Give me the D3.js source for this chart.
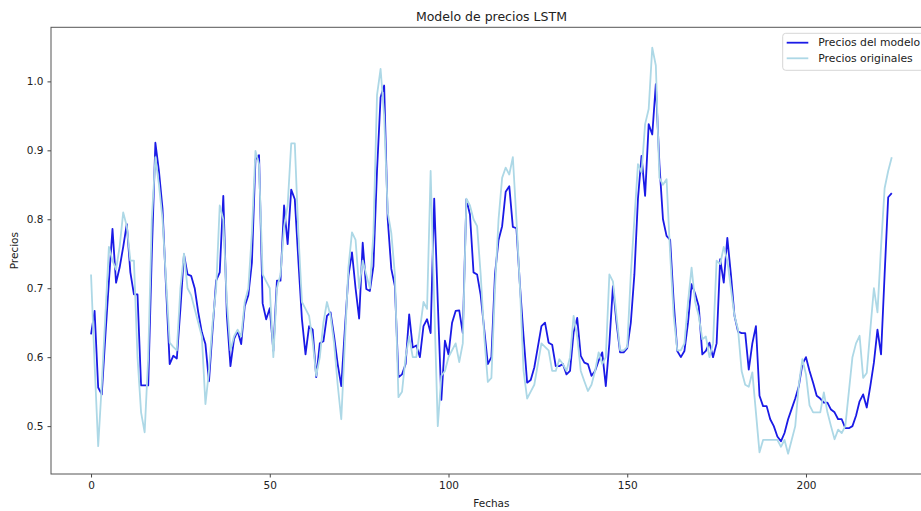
<!DOCTYPE html>
<html>
<head>
<meta charset="utf-8">
<script src="https://cdn.jsdelivr.net/npm/d3@7"></script>
<style>
  body { margin: 0; background: #fff; }
  text { font-family: "DejaVu Sans", sans-serif; fill: #222; }
</style>
</head>
<body>
<svg id="chart" width="921" height="511"></svg>
<script>
// Precios del modelo (LSTM), indice 0..224
var modelPrices = [
  0.633, 0.667, 0.556, 0.546, 0.63, 0.71, 0.786, 0.708, 0.73, 0.76,
  0.793, 0.723, 0.691, 0.691, 0.559, 0.559, 0.559, 0.75, 0.911, 0.87,
  0.815, 0.70, 0.59, 0.602, 0.598, 0.67, 0.749, 0.72, 0.718, 0.70,
  0.665, 0.636, 0.619, 0.565, 0.64, 0.711, 0.723, 0.834, 0.66, 0.587,
  0.626, 0.638, 0.619, 0.674, 0.69, 0.737, 0.887, 0.893, 0.678, 0.655,
  0.671, 0.609, 0.711, 0.711, 0.82, 0.764, 0.843, 0.829, 0.74, 0.655,
  0.604, 0.645, 0.64, 0.571, 0.62, 0.623, 0.66, 0.665, 0.63, 0.59,
  0.558, 0.64, 0.718, 0.752, 0.70, 0.656, 0.766, 0.699, 0.696, 0.732,
  0.87, 0.977, 0.994, 0.80, 0.728, 0.703, 0.571, 0.575, 0.59, 0.662,
  0.614, 0.617, 0.60, 0.645, 0.655, 0.635, 0.83, 0.68, 0.538, 0.624,
  0.604, 0.65, 0.667, 0.668, 0.635, 0.829, 0.807, 0.723, 0.72, 0.69,
  0.64, 0.59, 0.60, 0.72, 0.77, 0.79, 0.84, 0.848, 0.789, 0.787,
  0.703, 0.63, 0.563, 0.567, 0.585, 0.615, 0.645, 0.65, 0.621, 0.618,
  0.587, 0.587, 0.59, 0.575, 0.58, 0.636, 0.657, 0.602, 0.592, 0.59,
  0.573, 0.58, 0.595, 0.607, 0.558, 0.62, 0.703, 0.65, 0.607, 0.607,
  0.613, 0.65, 0.72, 0.83, 0.892, 0.834, 0.938, 0.923, 0.996, 0.88,
  0.80, 0.776, 0.77, 0.68, 0.609, 0.60, 0.609, 0.65, 0.706, 0.692,
  0.674, 0.604, 0.609, 0.621, 0.60, 0.62, 0.742, 0.708, 0.773, 0.72,
  0.66, 0.637, 0.635, 0.635, 0.582, 0.62, 0.645, 0.544, 0.529, 0.529,
  0.51, 0.50, 0.485, 0.478, 0.49, 0.51, 0.525, 0.54, 0.558, 0.59,
  0.60, 0.58, 0.563, 0.544, 0.54, 0.534, 0.534, 0.524, 0.52, 0.51,
  0.51, 0.497, 0.497, 0.50, 0.515, 0.536, 0.546, 0.527, 0.558, 0.592,
  0.64, 0.604, 0.72, 0.832, 0.838
];

// Precios originales
var originalPrices = [
  0.72, 0.59, 0.471, 0.56, 0.66, 0.76, 0.74, 0.727, 0.76, 0.81,
  0.79, 0.74, 0.74, 0.60, 0.52, 0.491, 0.60, 0.80, 0.89, 0.85,
  0.80, 0.71, 0.621, 0.615, 0.61, 0.70, 0.75, 0.70, 0.69, 0.67,
  0.65, 0.63, 0.532, 0.58, 0.65, 0.70, 0.82, 0.80, 0.68, 0.61,
  0.63, 0.64, 0.63, 0.68, 0.70, 0.78, 0.899, 0.88, 0.72, 0.71,
  0.70, 0.60, 0.70, 0.72, 0.789, 0.82, 0.91, 0.91, 0.78, 0.68,
  0.67, 0.66, 0.623, 0.573, 0.60, 0.65, 0.68, 0.66, 0.62, 0.56,
  0.51, 0.62, 0.73, 0.781, 0.77, 0.70, 0.74, 0.72, 0.70, 0.78,
  0.98, 1.018, 0.95, 0.81, 0.78, 0.72, 0.542, 0.55, 0.60, 0.63,
  0.60, 0.60, 0.64, 0.68, 0.67, 0.87, 0.68, 0.50, 0.573, 0.58,
  0.60, 0.61, 0.62, 0.593, 0.62, 0.83, 0.82, 0.80, 0.79, 0.72,
  0.63, 0.564, 0.57, 0.70, 0.80, 0.86, 0.875, 0.865, 0.89, 0.80,
  0.70, 0.58, 0.54, 0.55, 0.56, 0.59, 0.62, 0.615, 0.61, 0.58,
  0.58, 0.597, 0.59, 0.58, 0.60, 0.66, 0.63, 0.58, 0.565, 0.551,
  0.56, 0.58, 0.607, 0.59, 0.60, 0.72, 0.71, 0.66, 0.61, 0.61,
  0.615, 0.72, 0.80, 0.88, 0.868, 0.938, 0.96, 1.049, 1.023, 0.86,
  0.85, 0.858, 0.75, 0.66, 0.61, 0.61, 0.62, 0.68, 0.73, 0.68,
  0.66, 0.626, 0.63, 0.60, 0.62, 0.74, 0.735, 0.76, 0.74, 0.70,
  0.66, 0.64, 0.58, 0.56, 0.557, 0.578, 0.52, 0.462, 0.48, 0.48,
  0.48, 0.48, 0.48, 0.47, 0.48, 0.46, 0.48, 0.50, 0.56, 0.597,
  0.575, 0.53, 0.52, 0.52, 0.52, 0.549, 0.52, 0.50, 0.481, 0.495,
  0.49, 0.50, 0.55, 0.60, 0.62, 0.631, 0.57, 0.577, 0.64, 0.70,
  0.665, 0.76, 0.845, 0.87, 0.89
];

var xTicks = [0, 50, 100, 150, 200];
var yTicks = [0.5, 0.6, 0.7, 0.8, 0.9, 1.0];
var seriesNames = ["Precios del modelo", "Precios originales"];
var seriesColors = ["#1a1ae6", "#add8e6"];

var svg = d3.select("#chart");
// ojo: "top" es de window, por eso otros nombres
var plotLeft = 51, plotTop = 27.3, plotRight = 931.8, plotBottom = 474;

// margenes del 5% como matplotlib
var n = modelPrices.length - 1;
var allVals = modelPrices.concat(originalPrices);
var yMin = d3.min(allVals), yMax = d3.max(allVals);
var ySpan = yMax - yMin;

var x = d3.scaleLinear().domain([-0.05 * n, n * 1.05]).range([plotLeft, plotRight]);
var y = d3.scaleLinear().domain([yMin - 0.05 * ySpan, yMax + 0.05 * ySpan]).range([plotBottom, plotTop]);

var line = d3.line()
  .x(function(d, i){ return x(i); })
  .y(function(d){ return y(d); });

svg.append("path")
  .datum(modelPrices)
  .attr("d", line)
  .attr("fill", "none")
  .attr("stroke", seriesColors[0])
  .attr("stroke-width", 1.8)
  .attr("stroke-linejoin", "round");

svg.append("path")
  .datum(originalPrices)
  .attr("d", line)
  .attr("fill", "none")
  .attr("stroke", seriesColors[1])
  .attr("stroke-width", 1.8)
  .attr("stroke-linejoin", "round");

// ejes
var xAxis = svg.append("g")
  .attr("transform", "translate(0," + plotBottom + ")")
  .call(d3.axisBottom(x).tickValues(xTicks).tickSize(3.5).tickPadding(4).tickFormat(d3.format("d")));
var yAxis = svg.append("g")
  .attr("transform", "translate(" + plotLeft + ",0)")
  .call(d3.axisLeft(y).tickValues(yTicks).tickSize(3.5).tickPadding(4).tickFormat(d3.format(".1f")));

[xAxis, yAxis].forEach(function(a){
  a.select(".domain").remove();
  a.selectAll("line").attr("stroke", "#444");
  a.selectAll("text").attr("font-size", "10.5px").attr("font-family", "DejaVu Sans").attr("fill", "#222");
});

// marco
svg.append("rect")
  .attr("x", plotLeft).attr("y", plotTop)
  .attr("width", plotRight - plotLeft).attr("height", plotBottom - plotTop)
  .attr("fill", "none").attr("stroke", "#555").attr("stroke-width", 1);

svg.append("text")
  .attr("x", (plotLeft + plotRight) / 2).attr("y", 21)
  .attr("text-anchor", "middle").attr("font-size", "12.5px")
  .text("Modelo de precios LSTM");

svg.append("text")
  .attr("x", (plotLeft + plotRight) / 2).attr("y", 507)
  .attr("text-anchor", "middle").attr("font-size", "10.5px")
  .text("Fechas");

svg.append("text")
  .attr("transform", "translate(18," + ((plotTop + plotBottom) / 2) + ") rotate(-90)")
  .attr("text-anchor", "middle").attr("font-size", "10.5px")
  .text("Precios");

// leyenda
var legend = svg.append("g").attr("transform", "translate(782.7,33.3)");
legend.append("rect")
  .attr("width", 150).attr("height", 37).attr("rx", 3)
  .attr("fill", "#fff").attr("fill-opacity", 0.8)
  .attr("stroke", "#d6d6d6");
seriesNames.forEach(function(name, i){
  var row = legend.append("g").attr("transform", "translate(0," + (9.4 + i * 15.6) + ")");
  row.append("line").attr("x1", 4).attr("x2", 25.6)
    .attr("stroke", seriesColors[i]).attr("stroke-width", 1.8);
  row.append("text").attr("x", 35.6).attr("dy", "0.35em")
    .attr("font-size", "10.8px").text(name);
});
</script>
</body>
</html>
